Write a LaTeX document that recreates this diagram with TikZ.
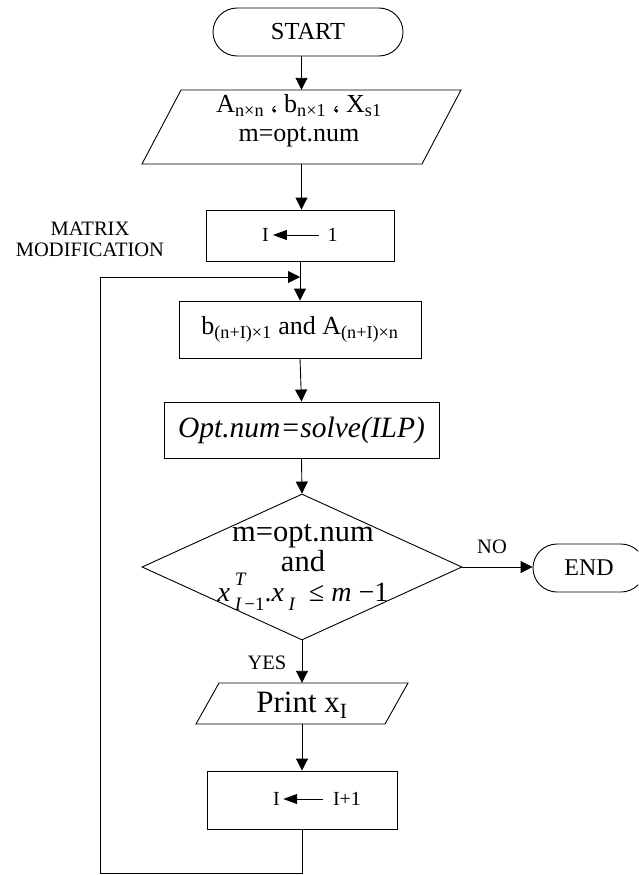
\documentclass[tikz,border=0pt]{standalone}
\usepackage{fontspec}
\setmainfont{Liberation Serif}
\usetikzlibrary{shapes.geometric,arrows.meta}

% font size helper: size, baseline skip
\newcommand{\setfs}[2]{\fontsize{#1}{#2}\selectfont}
% small turned-comma separator drawn between the input items
\newcommand{\lowq}{\hspace{8pt}\tikz[baseline=0pt,x=1pt,y=1pt]{%
  \fill (2.2,1.9) circle (1.9);
  \draw[line width=0.9pt] (0.5,2.2) .. controls (0.6,4.6) and (1.6,6.0) .. (3.4,6.8);}\hspace{8pt}}
% stacked superscript over subscript
\newcommand{\supsub}[2]{\rlap{\raisebox{0.55em}{\setfs{19}{19}#1}}\raisebox{-0.32em}{\setfs{19}{19}#2}}

\begin{document}
\begin{tikzpicture}[x=1pt,y=1pt,
  every node/.style={inner sep=0pt},
  edgeline/.style={draw=black, line width=0.9pt},
  arr/.style={edgeline, -{Triangle[length=12pt,width=12pt]}},
  smallarr/.style={edgeline, -{Triangle[length=14pt,width=10pt]}},
  terminal/.style={edgeline, rectangle, rounded corners=24pt, minimum height=48pt},
  procbox/.style={edgeline, rectangle},
  ioframe/.style={rectangle, draw=none},
  decision/.style={edgeline, diamond, minimum width=320pt, minimum height=146pt},
  lbl/.style={font=\setfs{20.5}{21}, align=center}
]
\useasboundingbox (0,0) rectangle (638,-875);
\clip (0,0) rectangle (638,-875);

% start terminal
\node[terminal, minimum width=190pt, font=\setfs{24.5}{26}] (start) at (308,-32) {START};

% input data
\node[ioframe, minimum width=240pt, minimum height=74pt] (data) at (301.5,-127) {};
\draw[edgeline] (181,-90) -- (461,-90) -- (422,-164) -- (142,-164) -- cycle;
\node[font=\setfs{26}{29}, align=center] (datatext) at (299,-121)
  {A\textsubscript{n×n}\lowq b\textsubscript{n×1}\lowq X\textsubscript{s1}\\m=opt.num};

% initialisation I <- 1
\node[procbox, minimum width=188pt, minimum height=51pt] (init) at (300,-235.5) {};
\node[font=\setfs{20}{22}] (initvar) at (265.5,-235) {I};
\node[font=\setfs{20}{22}] (initval) at (332.5,-235) {1};
\draw[smallarr, shorten >=3.9pt, shorten <=8.5pt] (initval) -- (initvar);

\node[lbl] (mm) at (90,-239) {MATRIX\\MODIFICATION};

% matrix update
\node[procbox, minimum width=242pt, minimum height=57pt, font=\setfs{26}{30}] (modify) at (300,-329.5)
  {b\textsubscript{(n+I)×1} and A\textsubscript{(n+I)×n}};

% solver call
\node[procbox, minimum width=275pt, minimum height=56pt, font=\setfs{29.5}{31}\itshape] (solve) at (301.5,-430)
  {Opt.num=solve(ILP)};

% decision
\node[decision] (dec) at (302,-567) {};
\node[font=\setfs{30.5}{30}, align=center] (dectext) at (303,-567)
  {m=opt.num\\and\\{\setfs{28}{30}\itshape x\,\supsub{T}{I\,\upshape−1}\upshape.\itshape x\,\raisebox{-0.32em}{\setfs{19}{19}I}\upshape\ \ ≤ \itshape m\upshape\ −1}};

% end terminal
\node[terminal, minimum width=112pt, font=\setfs{24}{26}] (stop) at (589,-568) {END};
\node[lbl] (nolbl) at (492,-547) {NO};
\node[lbl] (yeslbl) at (267,-663) {YES};

% output
\node[ioframe, minimum width=190pt, minimum height=41pt] (out) at (302,-703.5) {};
\draw[edgeline] (219,-683) -- (408,-683) -- (385,-724) -- (196,-724) -- cycle;
\node[font=\setfs{31}{33}] (outtext) at (302,-705) {Print x\textsubscript{I}};

% increment I <- I+1
\node[procbox, minimum width=190pt, minimum height=58pt] (incr) at (302,-800) {};
\node[font=\setfs{20}{22}] (incrvar) at (276.5,-799) {I};
\node[font=\setfs{20}{22}] (incrval) at (347,-799) {I+1};
\draw[smallarr, shorten >=3.2pt, shorten <=10pt] (incrval) -- (incrvar);

% connectors
\coordinate (merge) at (300,-277);
\coordinate (loopbottom) at (100,-873.5);
\draw[arr] (start.south -| data.north) -- (data.north);
\draw[arr] (data.south) -- (data.south |- init.north);
\draw[arr] (init.south) -- (modify.north);
\draw[arr] (modify.south) -- (solve.north);
\draw[arr] (solve.south) -- (dec.north);
\draw[arr] (dec.south) -- (out.north);
\draw[arr] (out.south) -- (incr.north);
\draw[arr] (dec.east) -- (dec.east -| stop.west);
\draw[arr] (incr.south) |- (loopbottom) |- (merge);
\end{tikzpicture}
\end{document}
